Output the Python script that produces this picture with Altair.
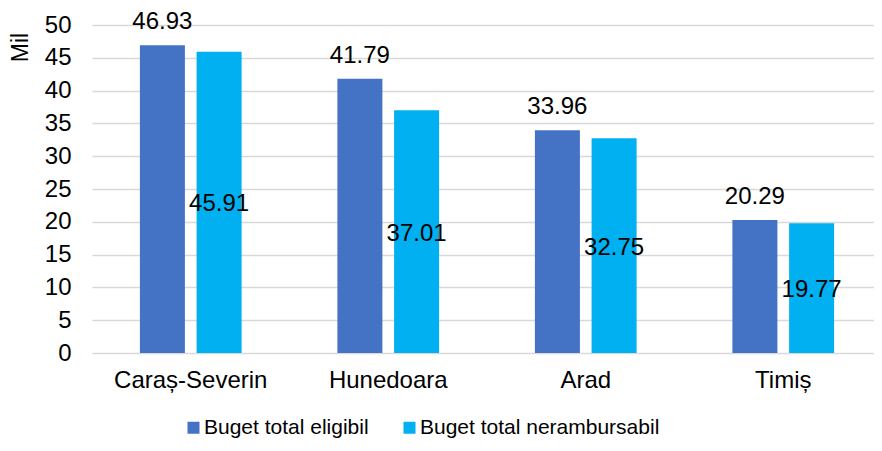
import altair as alt
import pandas as pd

categories = ["Caraș-Severin", "Hunedoara", "Arad", "Timiș"]
series_names = ["Buget total eligibil", "Buget total nerambursabil"]
eligibil = [46.93, 41.79, 33.96, 20.29]
nerambursabil = [45.91, 37.01, 32.75, 19.77]
colors = ["#4472C4", "#00B0F0"]
y_ticks = [0, 5, 10, 15, 20, 25, 30, 35, 40, 45, 50]

rows = []
for c, a, b in zip(categories, eligibil, nerambursabil):
    rows.append({"cat": c, "series": series_names[0], "value": a})
    rows.append({"cat": c, "series": series_names[1], "value": b})
df = pd.DataFrame(rows)

FONT = "Liberation Sans"

x_axis = alt.Axis(title=None, labelAngle=0, labelFontSize=24, labelFont=FONT,
                  labelColor="#000000", ticks=False, domain=False, grid=False,
                  labelPadding=15)
y_axis = alt.Axis(values=y_ticks, title="Mil", titleAngle=-90, titleFontSize=23,
                  titleFont=FONT, titleFontWeight="normal", titleColor="#000000",
                  titleX=-72, titleY=22, titleAlign="center", titleBaseline="middle",
                  labelFontSize=24, labelFont=FONT, labelColor="#000000",
                  labelOverlap=False, labelFlush=False,
                  labelPadding=21, ticks=False, domain=False,
                  gridColor="#D9D9D9", gridWidth=1.3)
y_scale = alt.Scale(domain=[0, 50], nice=False)

x = alt.X("cat:N", sort=categories,
          scale=alt.Scale(paddingInner=0.482, paddingOuter=0.241, range=[0, 790]),
          axis=x_axis)
xo = alt.XOffset("series:N", sort=series_names,
                 scale=alt.Scale(paddingInner=0.196, paddingOuter=0))

base = alt.Chart(df)

bars = base.mark_bar(size=45).encode(
    x=x, xOffset=xo, y=alt.Y("value:Q", scale=y_scale, axis=y_axis),
    color=alt.Color("series:N", sort=series_names,
                    scale=alt.Scale(domain=series_names, range=colors),
                    legend=alt.Legend(title=None, orient="none", legendX=91, legendY=392,
                                      direction="horizontal", symbolType="square",
                                      symbolSize=144, symbolStrokeWidth=0,
                                      labelFontSize=21, labelFont=FONT, labelColor="#000000",
                                      labelLimit=0, columnPadding=30, labelOffset=0)),
)

top_labels = base.transform_filter(
    alt.datum.series == series_names[0]
).mark_text(baseline="middle", dy=-23, fontSize=24, font=FONT, color="#000000").encode(
    x=x, xOffset=xo, y=alt.Y("value:Q", scale=y_scale, axis=y_axis),
    text=alt.Text("value:Q", format=".2f"),
)

mid_labels = base.transform_filter(
    alt.datum.series == series_names[1]
).transform_calculate(
    mid="datum.value / 2"
).mark_text(baseline="middle", dy=2, fontSize=24, font=FONT, color="#000000").encode(
    x=x, xOffset=xo, y=alt.Y("mid:Q", scale=y_scale, axis=y_axis),
    text=alt.Text("value:Q", format=".2f"),
)

chart = alt.layer(bars, top_labels, mid_labels).properties(
    width=782, height=328,
    autosize=alt.AutoSizeParams(type="none"),
    padding={"left": 84, "top": 17, "right": 0, "bottom": 85},
).configure_view(stroke=None)

chart.save("out.html", embed_options={"renderer": "svg", "actions": False})
